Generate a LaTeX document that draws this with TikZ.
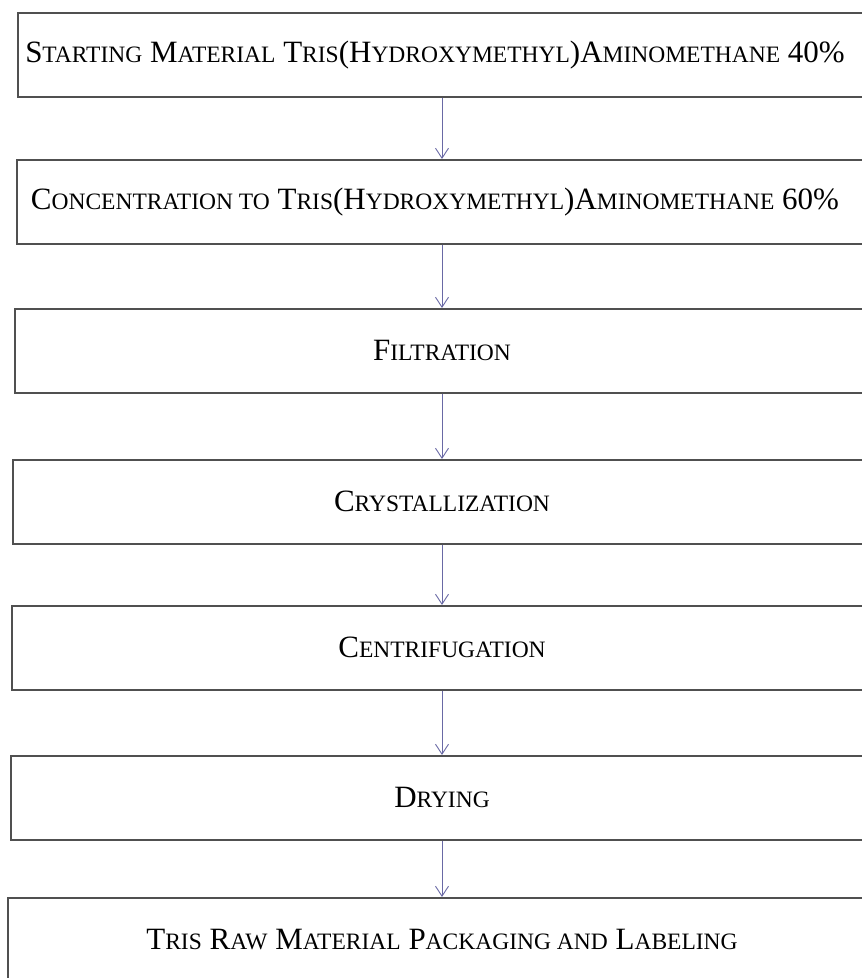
\documentclass[tikz,border=0pt]{standalone}
\usepackage{fontspec}
\setmainfont{Liberation Serif}
\usetikzlibrary{arrows.meta}
\newcommand{\sm}[1]{{\fontsize{23.5}{27}\selectfont #1}}
\definecolor{boxgray}{RGB}{80,80,80}
\definecolor{arrblue}{RGB}{105,105,165}

\begin{document}
\begin{tikzpicture}[x=1pt,y=-1pt,
    stepbox/.style={draw=boxgray, line width=1.5pt, minimum height=84pt, inner sep=0pt, font=\fontsize{31}{36}\selectfont},
    flow/.style={draw=arrblue, line width=0.9pt, -{Straight Barb[length=10pt,width=13pt]}}]
    \useasboundingbox (0,0) rectangle (862,978);
    \clip (0,0) rectangle (862,978);
    \node[stepbox, minimum width=848pt, anchor=north] (s1) at (442,12) {S\sm{TARTING} M\sm{ATERIAL} T\sm{RIS}(H\sm{YDROXYMETHYL})A\sm{MINOMETHANE} 40\%\hspace*{14pt}};
    \node[stepbox, minimum width=850pt, anchor=north] (s2) at (442,159) {C\sm{ONCENTRATION TO} T\sm{RIS}(H\sm{YDROXYMETHYL})A\sm{MINOMETHANE} 60\%\hspace*{14pt}};
    \node[stepbox, minimum width=854pt, anchor=north] (s3) at (442,308) {F\sm{ILTRATION}};
    \node[stepbox, minimum width=858pt, anchor=north] (s4) at (442,459) {C\sm{RYSTALLIZATION}};
    \node[stepbox, minimum width=860pt, anchor=north] (s5) at (442,605) {C\sm{ENTRIFUGATION}};
    \node[stepbox, minimum width=862pt, anchor=north] (s6) at (442,755) {D\sm{RYING}};
    \node[stepbox, minimum width=868pt, anchor=north] (s7) at (442,897) {T\sm{RIS} R\sm{AW} M\sm{ATERIAL} P\sm{ACKAGING AND} L\sm{ABELING}};
    \draw[flow] (s1) -- (s2);
    \draw[flow] (s2) -- (s3);
    \draw[flow] (s3) -- (s4);
    \draw[flow] (s4) -- (s5);
    \draw[flow] (s5) -- (s6);
    \draw[flow] (s6) -- (s7);
\end{tikzpicture}
\end{document}
